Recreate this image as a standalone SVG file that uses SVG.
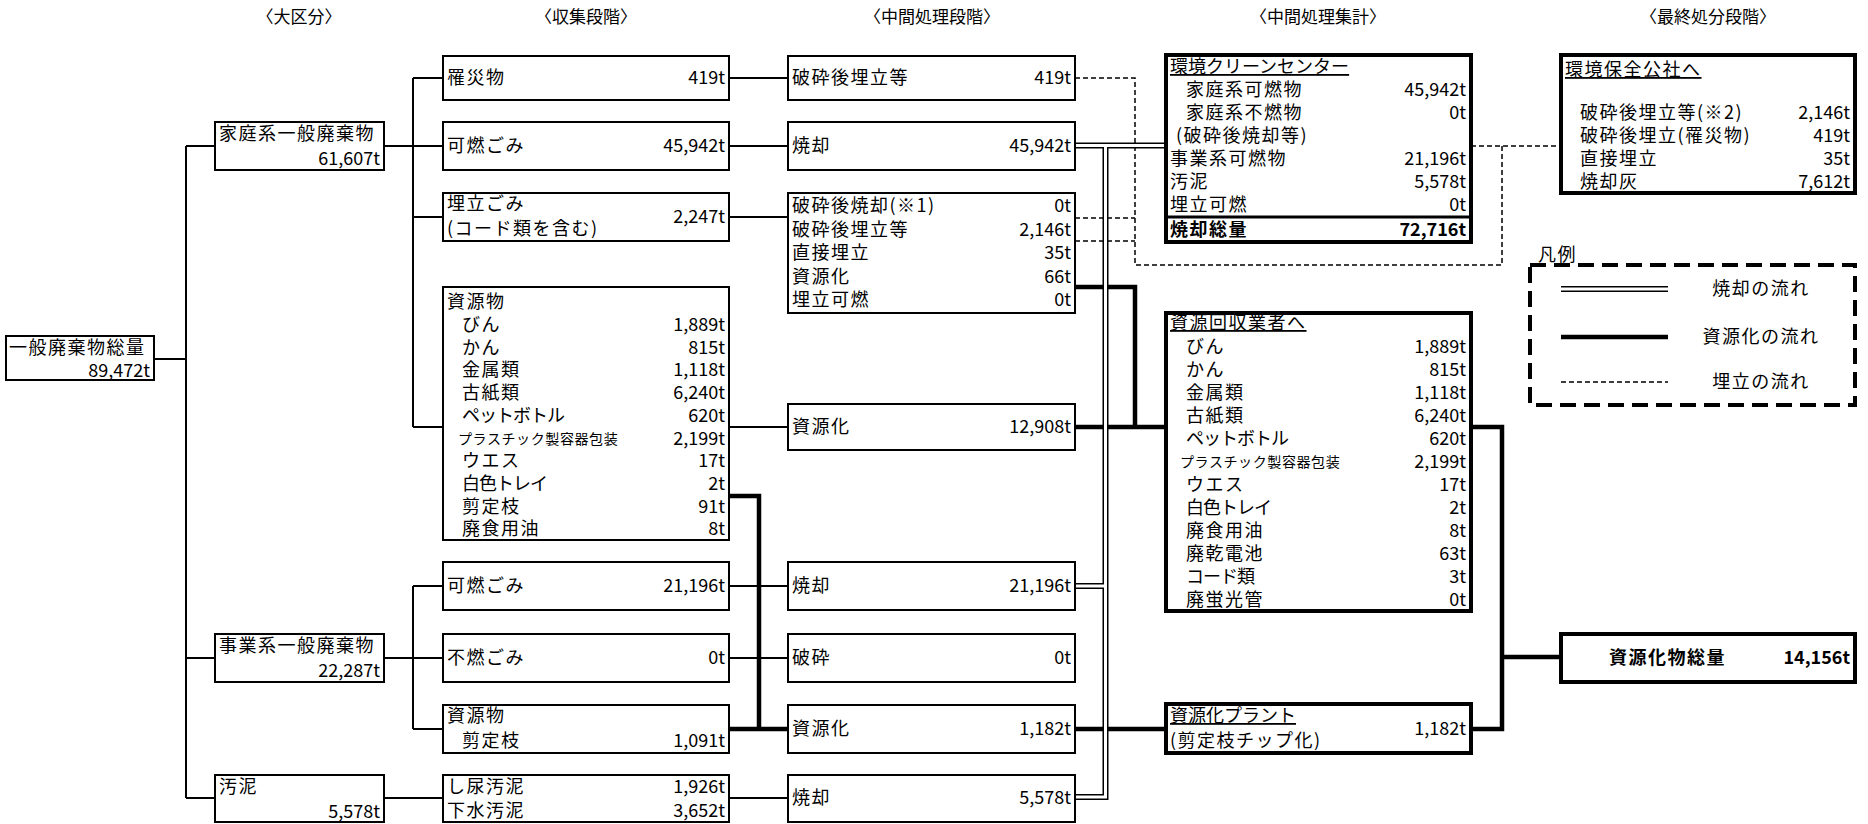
<svg xmlns="http://www.w3.org/2000/svg" width="1868" height="824" viewBox="0 0 1868 824">
<style>
text{font-family:"Noto Sans CJK JP","Noto Sans CJK SC",sans-serif;fill:#000}
.t{font-size:18px;letter-spacing:1.5px}
.k{font-size:18px;letter-spacing:-1px}
.s{font-size:14px;letter-spacing:0.6px}
.v{font-size:18px;text-anchor:end}
.h{font-size:17px;text-anchor:middle}
.b{font-weight:bold}
.u{text-decoration:underline}
.box{fill:#fff;stroke:#000;stroke-width:2}
.bx{fill:#fff;stroke:#000;stroke-width:4}
.thin{fill:none;stroke:#000;stroke-width:2}
.thick{fill:none;stroke:#000;stroke-width:4.5}
.dash{fill:none;stroke:#000;stroke-width:1.5;stroke-dasharray:5 3}
.pipeo{fill:none;stroke:#000;stroke-width:6;stroke-linejoin:miter}
.pipei{fill:none;stroke:#fff;stroke-width:3;stroke-linejoin:miter}
</style>
<rect width="1868" height="824" fill="#fff"/>
<g id="headers">
<text class="h" x="299" y="23">〈大区分〉</text>
<text class="h" x="586" y="23">〈収集段階〉</text>
<text class="h" x="932" y="23">〈中間処理段階〉</text>
<text class="h" x="1318" y="23">〈中間処理集計〉</text>
<text class="h" x="1708" y="23">〈最終処分段階〉</text>
</g>
<g id="connectors">
<path class="thin" d="M154 359H186M186 146V798M186 146H215M186 658H215M186 798H215M384 146H413M413 78V427M413 78H443M413 146H443M413 217H443M413 427H443M384 658H413M413 586V729M413 586H443M413 658H443M413 729H443M384 798H443M729 78H788M729 146H788M729 217H788M729 427H788M729 586H788M729 658H788M729 798H788"/>
<path class="thick" d="M729 496H759V729M729 729H788M1075 287H1135V427M1075 427H1166M1075 729H1166M1471 427H1502V729H1471M1502 657H1561"/>
<path class="dash" d="M1075 78H1135V265H1502V146M1075 218H1135M1075 241H1135M1471 146H1561"/>
<path class="pipeo" d="M1075 145.5H1166M1105.5 145.5V797H1075M1105.5 586H1075"/>
<path class="pipei" d="M1075 145.5H1166M1105.5 145.5V797H1075M1105.5 586H1075"/>
</g>
<g id="n_total">
<rect class="box" x="6" y="336" width="148" height="44"/>
<text class="t" x="9" y="354">一般廃棄物総量</text>
<text class="v" x="150" y="377">89,472t</text>
</g>
<g id="n_home">
<rect class="box" x="215" y="122" width="169" height="48"/>
<text class="t" x="219" y="140">家庭系一般廃棄物</text>
<text class="v" x="380" y="165">61,607t</text>
</g>
<g id="n_biz">
<rect class="box" x="215" y="634" width="169" height="48"/>
<text class="t" x="219" y="652">事業系一般廃棄物</text>
<text class="v" x="380" y="677">22,287t</text>
</g>
<g id="n_sludge">
<rect class="box" x="215" y="775" width="169" height="47"/>
<text class="t" x="219" y="793">汚泥</text>
<text class="v" x="380" y="818">5,578t</text>
</g>
<g id="c_risai">
<rect class="box" x="443" y="56" width="286" height="44"/>
<text class="t" x="447" y="84">罹災物</text>
<text class="v" x="725" y="84">419t</text>
</g>
<g id="c_kanen">
<rect class="box" x="443" y="122" width="286" height="48"/>
<text class="t" x="447" y="152">可燃ごみ</text>
<text class="v" x="725" y="152">45,942t</text>
</g>
<g id="c_umetate">
<rect class="box" x="443" y="193" width="286" height="48"/>
<text class="t" x="447" y="210">埋立ごみ</text>
<text class="t" x="447" y="235">(コード類を含む)</text>
<text class="v" x="725" y="223">2,247t</text>
</g>
<g id="c_shigen">
<rect class="box" x="443" y="287" width="286" height="253"/>
<text class="t" x="447" y="308">資源物</text>
<text class="t" x="462" y="331">びん</text>
<text class="t" x="462" y="353.7">かん</text>
<text class="t" x="462" y="376.4">金属類</text>
<text class="t" x="462" y="399.1">古紙類</text>
<text class="k" x="462" y="421.8">ペットボトル</text>
<text class="s" x="458" y="443.5">プラスチック製容器包装</text>
<text class="t" x="462" y="467.2">ウエス</text>
<text class="k" x="462" y="489.9">白色トレイ</text>
<text class="t" x="462" y="512.6">剪定枝</text>
<text class="t" x="462" y="535.3">廃食用油</text>
<text class="v" x="725" y="331">1,889t</text>
<text class="v" x="725" y="353.7">815t</text>
<text class="v" x="725" y="376.4">1,118t</text>
<text class="v" x="725" y="399.1">6,240t</text>
<text class="v" x="725" y="421.8">620t</text>
<text class="v" x="725" y="444.5">2,199t</text>
<text class="v" x="725" y="467.2">17t</text>
<text class="v" x="725" y="489.9">2t</text>
<text class="v" x="725" y="512.6">91t</text>
<text class="v" x="725" y="535.3">8t</text>
</g>
<g id="c_biz_kanen">
<rect class="box" x="443" y="562" width="286" height="48"/>
<text class="t" x="447" y="592">可燃ごみ</text>
<text class="v" x="725" y="592">21,196t</text>
</g>
<g id="c_biz_funen">
<rect class="box" x="443" y="634" width="286" height="48"/>
<text class="t" x="447" y="664">不燃ごみ</text>
<text class="v" x="725" y="664">0t</text>
</g>
<g id="c_biz_shigen">
<rect class="box" x="443" y="705" width="286" height="48"/>
<text class="t" x="447" y="722">資源物</text>
<text class="t" x="462" y="747">剪定枝</text>
<text class="v" x="725" y="747">1,091t</text>
</g>
<g id="c_odei">
<rect class="box" x="443" y="775" width="286" height="47"/>
<text class="t" x="447" y="793">し尿汚泥</text>
<text class="t" x="447" y="817">下水汚泥</text>
<text class="v" x="725" y="793">1,926t</text>
<text class="v" x="725" y="817">3,652t</text>
</g>
<g id="m_hasai_umetate">
<rect class="box" x="788" y="56" width="287" height="44"/>
<text class="t" x="792" y="84">破砕後埋立等</text>
<text class="v" x="1071" y="84">419t</text>
</g>
<g id="m_shokyaku1">
<rect class="box" x="788" y="122" width="287" height="48"/>
<text class="t" x="792" y="152">焼却</text>
<text class="v" x="1071" y="152">45,942t</text>
</g>
<g id="m_hasai_list">
<rect class="box" x="788" y="193" width="287" height="120"/>
<text class="t" x="792" y="212">破砕後焼却(※1)</text>
<text class="t" x="792" y="236">破砕後埋立等</text>
<text class="t" x="792" y="259">直接埋立</text>
<text class="t" x="792" y="283">資源化</text>
<text class="t" x="792" y="306">埋立可燃</text>
<text class="v" x="1071" y="212">0t</text>
<text class="v" x="1071" y="236">2,146t</text>
<text class="v" x="1071" y="259">35t</text>
<text class="v" x="1071" y="283">66t</text>
<text class="v" x="1071" y="306">0t</text>
</g>
<g id="m_shigenka1">
<rect class="box" x="788" y="404" width="287" height="46"/>
<text class="t" x="792" y="433">資源化</text>
<text class="v" x="1071" y="433">12,908t</text>
</g>
<g id="m_shokyaku2">
<rect class="box" x="788" y="562" width="287" height="48"/>
<text class="t" x="792" y="592">焼却</text>
<text class="v" x="1071" y="592">21,196t</text>
</g>
<g id="m_hasai">
<rect class="box" x="788" y="634" width="287" height="48"/>
<text class="t" x="792" y="664">破砕</text>
<text class="v" x="1071" y="664">0t</text>
</g>
<g id="m_shigenka2">
<rect class="box" x="788" y="705" width="287" height="48"/>
<text class="t" x="792" y="735">資源化</text>
<text class="v" x="1071" y="735">1,182t</text>
</g>
<g id="m_shokyaku3">
<rect class="box" x="788" y="775" width="287" height="47"/>
<text class="t" x="792" y="804">焼却</text>
<text class="v" x="1071" y="804">5,578t</text>
</g>
<g id="s_clean_center">
<rect class="bx" x="1166" y="55" width="305" height="187"/>
<line x1="1166" y1="217" x2="1471" y2="217" stroke="#000" stroke-width="3"/>
<text class="k u" x="1170" y="73" style="letter-spacing:0">環境クリーンセンター</text>
<text class="t" x="1186" y="96">家庭系可燃物</text>
<text class="t" x="1186" y="119">家庭系不燃物</text>
<text class="t" x="1176" y="142">(破砕後焼却等)</text>
<text class="t" x="1170" y="165">事業系可燃物</text>
<text class="t" x="1170" y="188">汚泥</text>
<text class="t" x="1170" y="211">埋立可燃</text>
<text class="t b" x="1170" y="236">焼却総量</text>
<text class="v" x="1466" y="96">45,942t</text>
<text class="v" x="1466" y="119">0t</text>
<text class="v" x="1466" y="165">21,196t</text>
<text class="v" x="1466" y="188">5,578t</text>
<text class="v" x="1466" y="211">0t</text>
<text class="v b" x="1466" y="236">72,716t</text>
</g>
<g id="s_shigen_kaishu">
<rect class="bx" x="1166" y="313" width="305" height="298"/>
<text class="t u" x="1170" y="329">資源回収業者へ</text>
<text class="t" x="1186" y="353">びん</text>
<text class="t" x="1186" y="376">かん</text>
<text class="t" x="1186" y="399">金属類</text>
<text class="t" x="1186" y="422">古紙類</text>
<text class="k" x="1186" y="445">ペットボトル</text>
<text class="s" x="1180" y="467">プラスチック製容器包装</text>
<text class="t" x="1186" y="491">ウエス</text>
<text class="k" x="1186" y="514">白色トレイ</text>
<text class="t" x="1186" y="537">廃食用油</text>
<text class="t" x="1186" y="560">廃乾電池</text>
<text class="k" x="1186" y="583">コード類</text>
<text class="t" x="1186" y="606">廃蛍光管</text>
<text class="v" x="1466" y="353">1,889t</text>
<text class="v" x="1466" y="376">815t</text>
<text class="v" x="1466" y="399">1,118t</text>
<text class="v" x="1466" y="422">6,240t</text>
<text class="v" x="1466" y="445">620t</text>
<text class="v" x="1466" y="468">2,199t</text>
<text class="v" x="1466" y="491">17t</text>
<text class="v" x="1466" y="514">2t</text>
<text class="v" x="1466" y="537">8t</text>
<text class="v" x="1466" y="560">63t</text>
<text class="v" x="1466" y="583">3t</text>
<text class="v" x="1466" y="606">0t</text>
</g>
<g id="s_shigenka_plant">
<rect class="bx" x="1166" y="704" width="305" height="49"/>
<text class="k u" x="1170" y="722" style="letter-spacing:0">資源化プラント</text>
<text class="t" x="1170" y="747">(剪定枝チップ化)</text>
<text class="v" x="1466" y="735">1,182t</text>
</g>
<g id="f_kankyo_hozen">
<rect class="bx" x="1561" y="55" width="294" height="138"/>
<text class="t u" x="1565" y="76">環境保全公社へ</text>
<text class="t" x="1580" y="119">破砕後埋立等(※2)</text>
<text class="t" x="1580" y="142">破砕後埋立(罹災物)</text>
<text class="t" x="1580" y="165">直接埋立</text>
<text class="t" x="1580" y="188">焼却灰</text>
<text class="v" x="1850" y="119">2,146t</text>
<text class="v" x="1850" y="142">419t</text>
<text class="v" x="1850" y="165">35t</text>
<text class="v" x="1850" y="188">7,612t</text>
</g>
<g id="f_shigenka_total">
<rect class="bx" x="1561" y="634" width="294" height="48"/>
<text class="t b" x="1609" y="664">資源化物総量</text>
<text class="v b" x="1850" y="664">14,156t</text>
</g>
<g id="legend">
<text class="t" x="1538" y="261">凡例</text>
<rect x="1530" y="265" width="325" height="140" fill="none" stroke="#000" stroke-width="4" stroke-dasharray="16 8"/>
<path class="pipeo" d="M1561 289H1668"/>
<path class="pipei" d="M1561 289H1668"/>
<path class="thick" d="M1561 337H1668"/>
<path class="dash" d="M1561 382H1668"/>
<text class="t" x="1761" y="295" text-anchor="middle">焼却の流れ</text>
<text class="t" x="1761" y="343" text-anchor="middle">資源化の流れ</text>
<text class="t" x="1761" y="388" text-anchor="middle">埋立の流れ</text>
</g>
</svg>
